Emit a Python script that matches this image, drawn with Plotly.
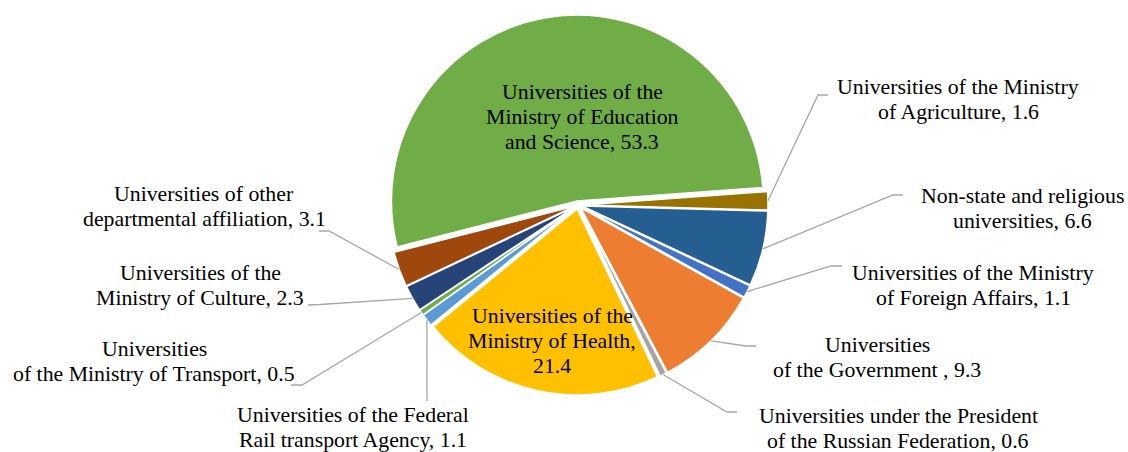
import math
import plotly.graph_objects as go

# ---------------- data ----------------
categories = [
    "Universities of the<br>Ministry of Education<br>and Science",
    "Universities of the Ministry<br>of Agriculture",
    "Non-state and religious<br>universities",
    "Universities of the Ministry<br>of Foreign Affairs",
    "Universities<br>of the Government ",
    "Universities under the President<br>of the Russian Federation",
    "Universities of the<br>Ministry of Health",
    "Universities of the Federal<br>Rail transport Agency",
    "Universities<br>of the Ministry of Transport",
    "Universities of the<br>Ministry of Culture",
    "Universities of other<br>departmental affiliation",
]
values = [53.3, 1.6, 6.6, 1.1, 9.3, 0.6, 21.4, 1.1, 0.5, 2.3, 3.1]
value_sep = [", ", ", ", ", ", ", ", ", ", ", ", ",<br>", ", ", ", ", ", ", ", "]
colors = ["#70AD47", "#997300", "#255E91", "#4472C4", "#ED7D31", "#A5A5A5",
          "#FFC000", "#5B9BD5", "#70AD47", "#264478", "#9E480E"]

# ---------------- layout constants ----------------
W, H = 1128, 452
CX, CY, HALF = 578, 205, 190
PULL = 0.022
ROTATION = -104.3
FONT = "Liberation Serif, Times New Roman, DejaVu Serif, serif"
FS = 21.8
LINE_GAP = 25
LINE_COLOR = "#A6A6A6"

# label block centers (px) and leader line label-side points (px)
label_pos = [
    (582, 117), (958, 99.5), (1022, 208), (973, 285), (877, 357.5),
    (898, 428), (552, 341), (353, 427), (154, 361.5), (200, 285.5),
    (204, 206.5),
]
leader_pts = [
    None,
    [(818, 95), (828, 95)],
    [(893, 195), (903, 195)],
    [(831, 266), (842, 266)],
    [(746, 346), (756, 346)],
    [(727, 412), (737, 412)],
    None,
    [(427, 401)],
    [(302, 385), (291, 385)],
    [(320, 304.5), (308, 305)],
    [(329, 231), (319, 231)],
]


def px(x):
    return x / W


def py(y):
    return 1 - y / H


fig = go.Figure(go.Pie(
    labels=[c.replace("<br>", " ") for c in categories],
    values=values,
    sort=False,
    direction="clockwise",
    rotation=ROTATION,
    pull=[PULL] * len(values),
    marker=dict(colors=colors, line=dict(color="white", width=1.5)),
    textinfo="none",
    hoverinfo="label+value",
    showlegend=False,
    domain=dict(x=[px(CX - HALF), px(CX + HALF)], y=[py(CY + HALF), py(CY - HALF)]),
))

total = sum(values)
cum = 0.0
shapes = []
annotations = []
for i, v in enumerate(values):
    mid = math.radians(ROTATION + (cum + v / 2) / total * 360)
    cum += v
    sx = CX + HALF * math.sin(mid)
    sy = CY - HALF * math.cos(mid)
    pts = leader_pts[i]
    if pts:
        allp = [(sx, sy)] + pts
        path = "M " + " L ".join(f"{px(x):.5f},{py(y):.5f}" for x, y in allp)
        shapes.append(dict(type="path", xref="paper", yref="paper", path=path,
                           line=dict(color=LINE_COLOR, width=1.3)))
    lx, ly = label_pos[i]
    lines = f"{categories[i]}{value_sep[i]}{v}".split("<br>")
    n = len(lines)
    for k, line in enumerate(lines):
        yy = ly + (k - (n - 1) / 2) * LINE_GAP
        annotations.append(dict(
            x=px(lx), y=py(yy), xref="paper", yref="paper",
            xanchor="center", yanchor="middle", align="center",
            text=line, showarrow=False,
            font=dict(family=FONT, size=FS, color="black"),
        ))

fig.update_layout(
    width=W, height=H,
    margin=dict(l=0, r=0, t=0, b=0),
    paper_bgcolor="white",
    plot_bgcolor="white",
    font=dict(family=FONT, size=FS, color="black"),
    shapes=shapes,
    annotations=annotations,
)

fig.write_html(
    "out.html",
    config={"displayModeBar": False},
    post_script="document.body.style.margin='0';document.body.style.overflow='hidden';",
)
